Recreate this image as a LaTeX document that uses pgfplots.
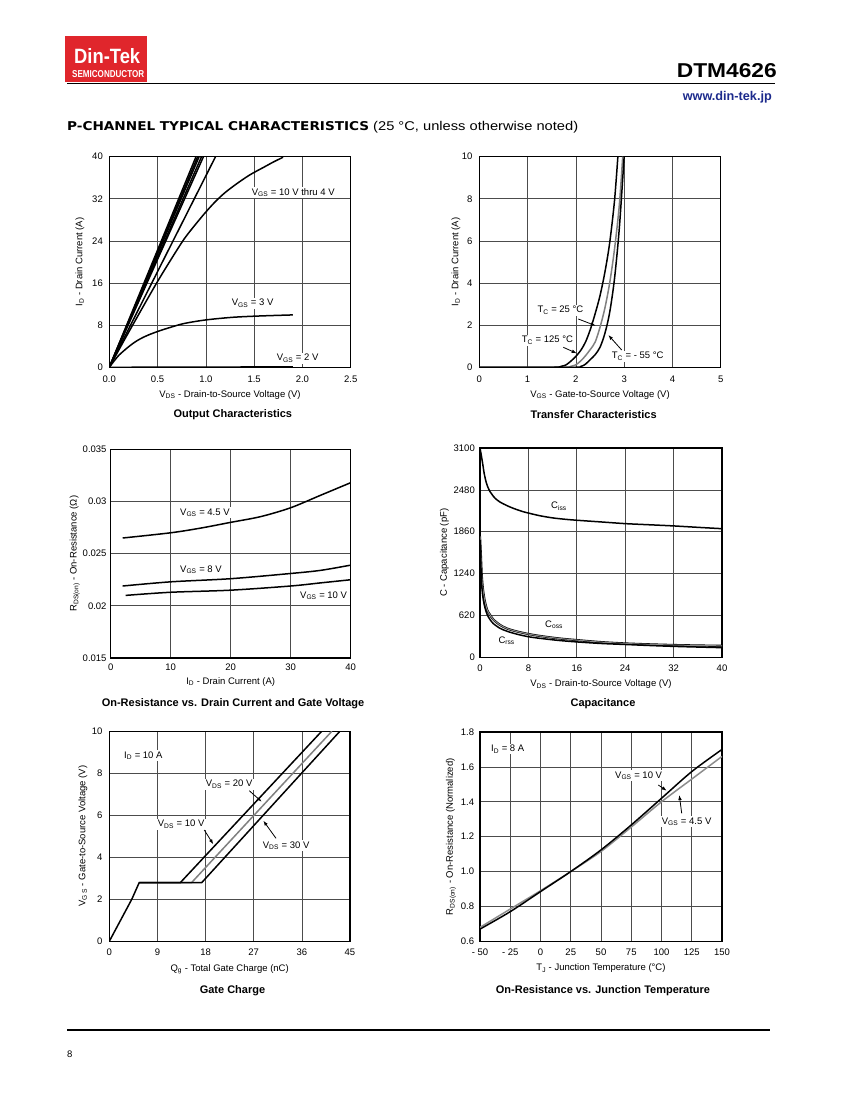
\documentclass[border=0pt]{standalone}
\usepackage{fontspec}
\setmainfont{Liberation Sans}
\newfontfamily\heavyfont{DejaVu Sans}
\usepackage{graphicx}
\usepackage{pgfplots}
\pgfplotsset{compat=1.18}
\usetikzlibrary{arrows.meta}
\definecolor{dtred}{RGB}{224,38,44}
\definecolor{dtblue}{RGB}{28,42,140}
\newcommand\tk{\fontsize{9.5}{11}\selectfont}
\newcommand\sub[1]{\textsubscript{#1}}
\pgfplotsset{
  dt/.style={
    scale only axis, anchor=north west,
    axis line style={line width=1.4pt},
    grid=major, grid style={black!70, line width=0.7pt},
    major tick length=0pt, tick style={draw=none},
    tick label style={font=\tk, inner sep=0pt},
    label style={font=\tk},
    scaled ticks=false,
    xlabel style={at={(axis description cs:0.5,0)},anchor=base},
  },
  crv/.style={black, line width=1.5pt, no marks},
  gcrv/.style={black!50, line width=1.5pt, no marks},
}
\tikzset{ann/.style={anchor=base west, font=\tk, inner sep=1.2pt, xshift=-1.2pt, fill=white},
  capt/.style={anchor=base, font=\fontsize{11}{13}\selectfont\bfseries, inner sep=0pt},
  arr/.style={-{Latex[length=5pt,width=3.6pt]}, line width=0.8pt}}
\begin{document}
\begin{tikzpicture}
\path[use as bounding box] (0pt,0pt) rectangle (850pt,-1100pt);
% header
\fill[dtred] (65pt,-36pt) rectangle (147pt,-82pt);
\node[anchor=base west, inner sep=0pt, text=white] at (74pt,-63pt) {\resizebox{66pt}{15pt}{\bfseries Din-Tek}};
\node[anchor=base west, inner sep=0pt, text=white] at (72pt,-77pt) {\resizebox{72pt}{7pt}{\bfseries SEMICONDUCTOR}};
\draw[line width=1.8pt] (67pt,-83.5pt) -- (775pt,-83.5pt);
\node[anchor=base east, inner sep=0pt] at (777pt,-77pt) {\resizebox{100pt}{14pt}{\bfseries DTM4626}};
\node[anchor=base east, inner sep=0pt, text=dtblue] at (772pt,-100pt) {\resizebox{89pt}{!}{\fontsize{13}{15}\selectfont\bfseries www.din-tek.jp}};
\node[anchor=base west, inner sep=0pt] at (67pt,-130pt) {\resizebox{302pt}{9pt}{\heavyfont\bfseries P-CHANNEL TYPICAL CHARACTERISTICS}};
\node[anchor=base west, inner sep=0pt] at (373pt,-130pt) {\resizebox{205pt}{9.2pt}{\fontsize{12.5}{14}\selectfont (25 °C, unless otherwise noted)}};
\draw[line width=1.4pt] (67pt,-1030pt) -- (770pt,-1030pt);
\node[anchor=base west, inner sep=0pt, font=\fontsize{9.5}{11}\selectfont] at (67pt,-1057pt) {8};

% ---------- Plot 1: Output characteristics
\begin{axis}[dt, at={(109.3pt,-156.7pt)}, width=241.4pt, height=210.6pt,
  xmin=0, xmax=2.5, ymin=0, ymax=40,
  xtick={0,0.5,1,1.5,2,2.5}, xticklabels={0.0,0.5,1.0,1.5,2.0,2.5},
  ytick={0,8,16,24,32,40}, yticklabels={0,8,16,24,32,40},
  xticklabel style={anchor=base, yshift=-15.4pt},
  yticklabel style={anchor=east, xshift=-6.3pt},
  xlabel={V\sub{DS} - Drain-to-Source Voltage (V)},
  ylabel={I\sub{D} - Drain Current (A)},
  xlabel style={yshift=-30pt},
  ylabel style={at={(axis description cs:-0.1118,0.5)}, anchor=base}]
\addplot[crv] coordinates {(0,0) (0.898,40)};
\addplot[crv] coordinates {(0,0) (0.915,40)};
\addplot[crv] coordinates {(0,0) (0.93,40)};
\addplot[crv] coordinates {(0,0) (0.955,40)};
\addplot[crv] coordinates {(0,0) (0.975,40)};
\addplot[crv] coordinates {(0,0) (1.10,40)};
\addplot[crv, smooth] coordinates {(0,0) (0.15,5.0) (0.3,9.9) (0.49,16) (0.65,20.8) (0.78,24.5) (0.9,27.3) (1.0,29.5) (1.1,31.5) (1.2,33.2) (1.33,35.0) (1.46,36.6) (1.6,38.0) (1.7,39.0) (1.8,39.9)};
\addplot[crv, smooth] coordinates {(0,0) (0.05,1.2) (0.1,2.3) (0.18,3.6) (0.25,4.6) (0.32,5.4) (0.4,6.1) (0.5,6.8) (0.6,7.4) (0.77,8.3) (1.0,9.0) (1.28,9.5) (1.56,9.75) (1.9,9.95)};
\addplot[crv] coordinates {(0,0) (1.9,0.08)};
\end{axis}
\node[ann] at (251.7pt,-195pt) {V\sub{GS} = 10 V thru 4 V};
\node[ann] at (231.7pt,-305.7pt) {V\sub{GS} = 3 V};
\node[ann] at (276.7pt,-360.7pt) {V\sub{GS} = 2 V};
\node[capt] at (232.8pt,-417.7pt) {Output Characteristics};

% ---------- Plot 2: Transfer characteristics
\begin{axis}[dt, at={(479.3pt,-156.7pt)}, width=241.4pt, height=210.6pt,
  xmin=0, xmax=5, ymin=0, ymax=10,
  xtick={0,1,2,3,4,5}, xticklabels={0,1,2,3,4,5},
  ytick={0,2,4,6,8,10}, yticklabels={0,2,4,6,8,10},
  xticklabel style={anchor=base, yshift=-15pt},
  yticklabel style={anchor=east, xshift=-6.6pt},
  xlabel={V\sub{GS} - Gate-to-Source Voltage (V)},
  ylabel={I\sub{D} - Drain Current (A)},
  xlabel style={yshift=-30pt},
  ylabel style={at={(axis description cs:-0.087,0.5)}, anchor=base}]
\addplot[gcrv, smooth] coordinates {(0,0) (1.7,0) (1.9,0.05) (2.0,0.12) (2.1,0.3) (2.2,0.55) (2.3,0.85) (2.4,1.2) (2.5,1.9) (2.6,2.8) (2.7,4.0) (2.8,5.6) (2.9,7.7) (2.97,10)};
\addplot[crv, smooth] coordinates {(0,0) (1.5,0) (1.7,0.05) (1.8,0.12) (1.9,0.3) (2.0,0.52) (2.1,0.8) (2.2,1.2) (2.3,1.8) (2.4,2.55) (2.5,3.4) (2.6,4.5) (2.7,5.9) (2.8,7.9) (2.87,10)};
\addplot[crv, smooth] coordinates {(0,0) (1.9,0) (2.1,0.04) (2.2,0.15) (2.3,0.37) (2.4,0.6) (2.5,0.95) (2.6,1.6) (2.7,2.6) (2.8,4.2) (2.9,6.6) (3.0,10)};
\end{axis}
\node[ann] at (537.3pt,-312.7pt) {T\sub{C} = 25 °C};
\draw[arr] (578.3pt,-319pt) -- (595.7pt,-325.7pt);
\node[ann] at (521.7pt,-342.7pt) {T\sub{C} = 125 °C};
\draw[arr] (563.3pt,-347.3pt) -- (576.7pt,-353.3pt);
\node[ann] at (611.7pt,-358.7pt) {T\sub{C} = - 55 °C};
\draw[arr] (621.7pt,-350pt) -- (608.3pt,-335pt);
\node[capt] at (593.7pt,-418pt) {Transfer Characteristics};

% ---------- Plot 3: On-resistance vs drain current
\begin{axis}[dt, at={(110.7pt,-449.3pt)}, width=240pt, height=208.7pt,
  xmin=0, xmax=40, ymin=0.015, ymax=0.035,
  xtick={0,10,20,30,40}, xticklabels={0,10,20,30,40},
  ytick={0.015,0.02,0.025,0.03,0.035}, yticklabels={0.015,0.02,0.025,0.03,0.035},
  xticklabel style={anchor=base, yshift=-12.7pt},
  yticklabel style={anchor=east, xshift=-4pt},
  xlabel={I\sub{D} - Drain Current (A)},
  ylabel={R\sub{DS(on)} - On-Resistance (Ω)},
  xlabel style={yshift=-26.3pt},
  ylabel style={at={(axis description cs:-0.1417,0.5)}, anchor=base}]
\addplot[crv, smooth] coordinates {(2,0.0265) (10,0.0270) (15,0.02745) (20,0.0280) (25,0.02855) (30,0.0294) (35,0.0306) (40,0.0318)};
\addplot[crv, smooth] coordinates {(2,0.0219) (10,0.0223) (20,0.0226) (30,0.0231) (35,0.0234) (40,0.0239)};
\addplot[crv, smooth] coordinates {(2.5,0.0210) (10,0.0213) (20,0.0215) (30,0.0219) (35,0.0222) (40,0.0225)};
\end{axis}
\node[ann] at (180pt,-515pt) {V\sub{GS} = 4.5 V};
\node[ann] at (180pt,-572.3pt) {V\sub{GS} = 8 V};
\node[ann] at (300pt,-598.3pt) {V\sub{GS} = 10 V};
\node[capt] at (233pt,-706pt) {On-Resistance vs. Drain Current and Gate Voltage};

% ---------- Plot 4: Capacitance
\begin{axis}[dt, at={(480pt,-448pt)}, width=242pt, height=209.3pt,
  xmin=0, xmax=40, ymin=0, ymax=3100,
  xtick={0,8,16,24,32,40}, xticklabels={0,8,16,24,32,40},
  ytick={0,620,1240,1860,2480,3100}, yticklabels={0,620,1240,1860,2480,3100},
  xticklabel style={anchor=base, yshift=-14.3pt},
  yticklabel style={anchor=east, xshift=-5pt},
  xlabel={V\sub{DS} - Drain-to-Source Voltage (V)},
  ylabel={C - Capacitance (pF)},
  xlabel style={yshift=-29.3pt},
  ylabel style={at={(axis description cs:-0.1364,0.5)}, anchor=base}]
\addplot[crv, smooth] coordinates {(0,3100) (0.2,3000) (0.44,2870) (0.7,2720) (1.0,2600) (1.3,2520) (1.65,2455) (2.0,2410) (2.5,2355) (3.3,2300) (4.5,2245) (5.5,2207) (7,2160) (8.3,2130) (10,2095) (12,2065) (14,2045) (16,2030) (20,2005) (24,1980) (28,1963) (32,1946) (36,1925) (40,1905)};
\addplot[black, line width=2.2pt, no marks, smooth] coordinates {(0,1790) (0.15,1500) (0.3,1200) (0.5,1000) (0.8,830) (1.2,700) (1.65,630) (2.2,560) (3.3,480) (4.5,425) (6,385) (8,345) (10,315) (13,280) (16,255) (20,225) (24,205) (28,192) (32,182) (36,175) (40,170)};
\addplot[black!45, line width=1.0pt, no marks, smooth] coordinates {(0,1790) (0.15,1500) (0.3,1200) (0.5,1000) (0.8,830) (1.2,700) (1.65,630) (2.2,560) (3.3,480) (4.5,425) (6,385) (8,345) (10,315) (13,280) (16,255) (20,225) (24,205) (28,192) (32,182) (36,175) (40,170)};
\addplot[crv, smooth] coordinates {(0,1740) (0.15,1350) (0.3,1050) (0.5,880) (0.8,740) (1.2,630) (1.65,560) (2.2,500) (3.3,430) (4.5,385) (6,345) (8,305) (10,280) (13,250) (16,228) (20,205) (24,190) (28,175) (32,162) (36,152) (40,143)};
\end{axis}
\node[ann] at (551pt,-508.3pt) {C\sub{iss}};
\node[ann] at (545pt,-627.7pt) {C\sub{oss}};
\node[ann] at (498.3pt,-643.3pt) {C\sub{rss}};
\node[capt] at (603pt,-706pt) {Capacitance};

% ---------- Plot 5: Gate charge
\begin{axis}[dt, at={(109.3pt,-731.3pt)}, width=240.7pt, height=210pt,
  xmin=0, xmax=45, ymin=0, ymax=10,
  xtick={0,9,18,27,36,45}, xticklabels={0,9,18,27,36,45},
  ytick={0,2,4,6,8,10}, yticklabels={0,2,4,6,8,10},
  xticklabel style={anchor=base, yshift=-13.7pt},
  yticklabel style={anchor=east, xshift=-6.6pt},
  xlabel={Q\sub{g} - Total Gate Charge (nC)},
  ylabel={V\sub{G S} - Gate-to-Source Voltage (V)},
  xlabel style={yshift=-30.3pt},
  ylabel style={at={(axis description cs:-0.0997,0.5)}, anchor=base}]
\addplot[gcrv] coordinates {(5.6,2.8) (15.4,2.8) (41.6,10)};
\addplot[crv] coordinates {(0,0) (4.2,2.0) (5.6,2.8) (13.3,2.8) (39.7,10)};
\addplot[crv] coordinates {(5.6,2.8) (17.3,2.8) (43.1,10)};
\end{axis}
\node[ann] at (124pt,-758.3pt) {I\sub{D} = 10 A};
\node[ann] at (205.7pt,-786.7pt) {V\sub{DS} = 20 V};
\draw[arr] (249.3pt,-790.7pt) -- (261.7pt,-801.7pt);
\node[ann] at (157.7pt,-826.7pt) {V\sub{DS} = 10 V};
\draw[arr] (204.3pt,-830pt) -- (213.3pt,-844.3pt);
\node[ann] at (262.7pt,-848.3pt) {V\sub{DS} = 30 V};
\draw[arr] (276pt,-838.3pt) -- (263.3pt,-820.7pt);
\node[capt] at (232.5pt,-993pt) {Gate Charge};

% ---------- Plot 6: On-resistance vs junction temperature
\begin{axis}[dt, at={(480pt,-732pt)}, width=242pt, height=209.3pt,
  xmin=-50, xmax=150, ymin=0.6, ymax=1.8,
  xtick={-50,-25,0,25,50,75,100,125,150}, xticklabels={- 50,- 25,0,25,50,75,100,125,150},
  ytick={0.6,0.8,1.0,1.2,1.4,1.6,1.8}, yticklabels={0.6,0.8,1.0,1.2,1.4,1.6,1.8},
  xticklabel style={anchor=base, yshift=-14pt},
  yticklabel style={anchor=east, xshift=-5.7pt},
  xlabel={T\sub{J} - Junction Temperature (°C)},
  ylabel={R\sub{DS(on)} - On-Resistance (Normalized)},
  xlabel style={yshift=-29.4pt},
  ylabel style={at={(axis description cs:-0.1116,0.5)}, anchor=base}]
\addplot[black!45, line width=1.5pt, no marks, smooth] coordinates {(-50,0.68) (-25,0.785) (0,0.89) (25,1.0) (50,1.115) (75,1.255) (100,1.40) (125,1.53) (150,1.66)};
\addplot[crv, smooth] coordinates {(-50,0.67) (-25,0.77) (0,0.885) (25,1.0) (50,1.124) (75,1.267) (100,1.42) (125,1.573) (150,1.70)};
\end{axis}
\node[ann] at (491pt,-751.7pt) {I\sub{D} = 8 A};
\node[ann] at (615pt,-778.3pt) {V\sub{GS} = 10 V};
\draw[arr] (658.3pt,-785pt) -- (666.7pt,-790.7pt);
\node[ann] at (661.7pt,-824pt) {V\sub{GS} = 4.5 V};
\draw[arr] (681.7pt,-813.3pt) -- (679.3pt,-795pt);
\node[capt] at (603pt,-993pt) {On-Resistance vs. Junction Temperature};
\end{tikzpicture}
\end{document}
